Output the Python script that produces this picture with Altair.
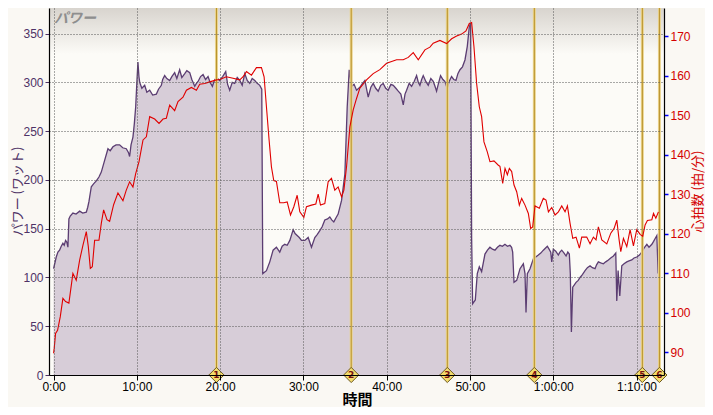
import altair as alt
import pandas as pd

# ---- data (time in minutes) ----
power_t = [0.0, 0.08, 0.32, 0.52, 0.72, 0.92, 1.12, 1.28, 1.44, 1.6, 1.72, 1.84, 2.0, 2.32, 2.7, 3.13, 3.5, 3.93,
           4.1, 4.25, 4.53, 4.8, 5.13, 5.45, 5.73, 6.13, 6.53, 6.8, 7.13, 7.5, 7.93, 8.3, 8.73, 9.0, 9.13, 9.3, 9.53,
           9.7, 9.86, 10.0, 10.13, 10.25, 10.34, 10.6, 10.94, 11.2, 11.54, 11.9, 12.34, 12.6, 12.94, 13.1, 13.34,
           13.6, 13.94, 14.2, 14.54, 14.8, 15.14, 15.4, 15.75, 16.0, 16.35, 16.6, 16.95, 17.15, 17.35, 17.65, 17.95,
           18.25, 18.55, 18.8, 19.07, 19.3, 19.55, 19.95, 20.3, 20.67, 20.9, 21.15, 21.45, 21.75, 22.05, 22.36,
           22.65, 22.96, 23.25, 23.56, 23.85, 24.16, 24.45, 24.76, 25.0, 25.12, 25.56, 25.96, 26.36, 26.76, 27.16,
           27.45, 27.76, 28.05, 28.37, 28.77, 29.0, 29.25, 29.5, 29.77, 30.17, 30.57, 30.97, 31.37, 31.65, 31.97,
           32.25, 32.57, 32.9, 33.17, 33.4, 33.65, 33.9, 34.17, 34.58, 34.98, 35.26, 35.5, 35.78, 36.08, 36.38,
           36.78, 37.1, 37.38, 37.78, 38.1, 38.38, 38.68, 38.98, 39.28, 39.58, 39.88, 40.18, 40.5, 40.79, 41.1,
           41.39, 41.7, 41.99, 42.2, 42.39, 42.7, 42.99, 43.3, 43.59, 43.8, 43.99, 44.2, 44.39, 44.7, 44.99, 45.3,
           45.59, 45.8, 45.99, 46.25, 46.47, 46.75, 46.99, 47.27, 47.5, 47.79, 48.05, 48.32, 48.55, 48.8, 49.1,
           49.4, 49.68, 49.92, 50.08, 50.2, 50.32, 50.64, 50.88, 51.12, 51.4, 51.8, 52.1, 52.4, 52.7, 53.0, 53.3,
           53.6, 53.9, 54.2, 54.5, 54.8, 55.0, 55.13, 55.29, 55.61, 56.01, 56.41, 56.61, 56.73, 56.89, 57.21,
           57.61, 57.9, 58.21, 58.5, 58.81, 59.05, 59.29, 59.5, 59.7, 59.82, 60.01, 60.3, 60.61, 60.8, 61.02, 61.3,
           61.54, 61.75, 61.93, 62.05, 62.18, 62.34, 62.74, 63.0, 63.22, 63.5, 63.82, 64.1, 64.42, 64.7, 65.02,
           65.2, 65.42, 65.7, 66.02, 66.3, 66.62, 66.9, 67.23, 67.51, 67.63, 67.79, 67.99, 68.23, 68.5, 68.83,
           69.1, 69.43, 69.7, 70.03, 70.35, 70.63, 70.9, 71.24, 71.5, 71.84, 72.05, 72.24, 72.44, 72.6]
power_w = [109, 112, 121, 126, 128, 132, 135, 133, 138, 136, 131, 160, 163, 166, 165, 168, 166, 167,
           172, 178, 193, 196, 199, 203, 208, 220, 232, 230, 234, 236, 236, 233, 232, 228, 224, 236, 244,
           258, 275, 300, 321, 306, 300, 294, 297, 290, 292, 287, 288, 293, 297, 303, 307,
           304, 302, 306, 310, 304, 313, 305, 309, 312, 310, 303, 296, 299, 301, 306, 308,
           303, 306, 300, 296, 302, 305, 302, 306, 311, 298, 292, 300, 299, 305, 302,
           297, 309, 302, 299, 304, 302, 299, 297, 293, 104, 107, 116, 128, 131, 126,
           132, 134, 133, 138, 149, 145, 143, 141, 138, 138, 141, 131, 141, 144, 148,
           152, 159, 160, 162, 159, 157, 161, 165, 179, 206, 275, 313, 296, 298, 292,
           295, 299, 302, 285, 295, 299, 294, 291, 297, 299, 294, 292, 298, 297, 294,
           291, 288, 277, 288, 292, 299, 296, 301, 307, 300, 297, 303, 307, 301, 297, 304,
           301, 296, 291, 300, 307, 303, 301, 294, 301, 306, 303, 302, 309, 313, 316,
           323, 337, 357, 361, 141, 73, 77, 104, 111, 106, 124, 128, 131, 129, 128, 131,
           133, 132, 134, 132, 133, 131, 126, 95, 97, 109, 114, 104, 64, 104, 109,
           119, 121, 123, 125, 128, 130, 132, 129, 126, 116, 129, 127, 123, 126, 128, 125,
           122, 126, 124, 104, 44, 90, 95, 97, 100, 103, 107, 110, 112, 110, 109,
           113, 116, 115, 114, 116, 118, 120, 122, 125, 76, 107, 81, 112, 114, 116,
           117, 118, 120, 121, 123, 126, 130, 134, 131, 134, 137, 140, 143, 104]

hr_t = [0.0, 0.08, 0.24, 0.48, 0.8, 1.12, 1.44, 1.84, 2.32, 2.72, 3.13, 3.53, 3.93, 4.17, 4.41, 4.65, 4.93,
        5.45, 5.73, 6.01, 6.41, 6.73, 7.21, 7.73, 8.33, 8.73, 9.13, 9.53, 9.86, 10.26, 10.74, 11.14, 11.54,
        12.14, 12.66, 13.14, 13.54, 13.94, 14.54, 14.94, 15.54, 15.95, 16.55, 17.15, 17.55, 18.15, 18.75,
        19.55, 19.95, 20.75, 21.55, 22.36, 22.76, 23.16, 23.76, 24.36, 24.96, 25.28, 25.56, 25.88, 26.16,
        26.44, 26.76, 27.16, 27.64, 28.05, 28.45, 28.85, 29.25, 29.57, 30.05, 30.37, 30.97, 31.49, 31.77,
        32.05, 32.57, 32.97, 33.37, 33.77, 34.17, 34.58, 34.86, 35.18, 35.58, 35.98, 36.38, 36.78, 37.58,
        38.38, 39.18, 39.99, 41.19, 41.99, 42.59, 43.19, 43.79, 44.59, 45.19, 45.59, 46.39, 47.2, 47.8,
        48.4, 49.0, 49.52, 49.92, 50.2, 50.48, 50.8, 51.12, 51.4, 51.68, 52.08, 52.4, 52.88, 53.41, 53.6,
        53.93, 54.21, 54.49, 54.73, 55.01, 55.29, 55.61, 55.93, 56.21, 56.61, 57.01, 57.29, 57.53, 57.81,
        58.33, 58.81, 59.13, 59.42, 59.82, 60.22, 60.62, 61.02, 61.42, 61.7, 62.02, 62.34, 62.74, 63.14,
        63.42, 64.02, 64.42, 64.82, 65.14, 65.42, 65.83, 66.43, 66.91, 67.31, 67.63, 67.91, 68.11, 68.43,
        68.83, 69.23, 69.63, 70.03, 70.43, 70.75, 71.03, 71.31, 71.84, 72.04, 72.32, 72.63]
hr_bpm = [89.7, 91, 94.7, 95.5, 98.9, 103.6, 102.8, 102.4, 109.9, 108.2, 113.3, 117.1, 120.5, 116.7, 111.2,
          111.6, 118.3, 118.3, 122.6, 126, 123.5, 123.1, 127.3, 130.3, 128.3, 131, 133.1, 131.8, 135.2, 138.2,
          143.7, 144.5, 149.6, 149, 147.9, 149, 149.2, 152.5, 151.1, 153.4, 154.5, 156.3, 157, 156.3, 157.8,
          158, 158.4, 158.9, 159, 159.7, 159.3, 158.9, 159.7, 161, 160.1, 162, 162, 159.7, 152.1, 143.7,
          136.9, 133.4, 133.2, 127.8, 127.8, 128, 124.7, 126.8, 129.7, 125.5, 124.1, 126.8, 127.2, 127.5,
          130, 127.2, 127.6, 133.1, 134, 131, 131.8, 129.3, 131, 136.9, 147, 151.3, 154.2, 156.8, 158.9,
          160.5, 161.5, 163.1, 164, 164, 164.6, 165.8, 164, 166.5, 167.2, 168.2, 168.9, 168.1, 169.3, 170,
          170.5, 171.3, 173.2, 173.4, 167.3, 158, 152.1, 149.6, 143.2, 140.7, 138.2, 138.4, 137.3, 137,
          132.7, 136.5, 134.9, 136.5, 135.7, 132.3, 130.6, 127.2, 128.9, 127.2, 125.1, 121.3, 121.7, 127,
          126.4, 128.9, 128.5, 125.5, 126.6, 124.7, 125.5, 127, 125.5, 127, 122.6, 118.8, 119.1, 116.3,
          119.1, 119.1, 117.4, 119.1, 118.4, 121.7, 118.4, 117.4, 120.1, 121.3, 123.4, 118.4, 115.4, 118.8,
          116.7, 121, 116.9, 121, 119.8, 119.3, 122.2, 123.3, 123.5, 125.1, 123.9, 125.5]

lap_t = [19.56, 35.74, 47.28, 57.73, 70.70, 72.75]
lap_n = ["1", "2", "3", "4", "5", "6"]

x_ticks = [0, 10, 20, 30, 40, 50, 60, 70]
power_ticks = [0, 50, 100, 150, 200, 250, 300, 350]
hr_ticks = [90, 100, 110, 120, 130, 140, 150, 160, 170]

panel_title = "パワー"
x_title = "時間"
power_title = "パワー (ワット)"
hr_title = "心拍数 (拍/分)"

power_df = pd.DataFrame({"t": power_t, "w": power_w})
hr_df = pd.DataFrame({"t": hr_t, "bpm": hr_bpm})
lap_df = pd.DataFrame({"t": lap_t, "n": lap_n})

PURPLE = "#4E3266"
RED = "#D40000"
NUMFONT = "Liberation Sans Narrow, Liberation Sans"
JPFONT = "Noto Sans CJK JP"

x_scale = alt.Scale(domain=[-0.55, 73.3], nice=False, zero=False)
x_axis = alt.Axis(
    values=x_ticks,
    labelExpr="datum.value < 60 ? datum.value + ':00' : '1:' + (datum.value - 60 < 10 ? '0' : '') + (datum.value - 60) + ':00'",
    title=x_title, titleFont=JPFONT, titleFontSize=15, titleFontWeight="bold", titleColor="black",
    titleX=308, titleY=24, titleBaseline="middle", titleAlign="center",
    labelFont=NUMFONT, labelFontSize=12, labelColor="black", labelFlush=False, labelPadding=1,
    grid=True, gridDash=[1, 2], gridColor="#555555", gridWidth=1,
    domainColor="black", domainWidth=1.2, tickColor="black", tickSize=5, zindex=1,
)
X = alt.X("t:Q", scale=x_scale, axis=x_axis)

p_scale = alt.Scale(domain=[0, 376.3], nice=False, zero=True)
p_axis = alt.Axis(
    values=power_ticks, title=power_title, titleFont=JPFONT, titleFontSize=13, titleFontWeight="normal",
    titleColor=PURPLE, titleX=-32, titleY=183, titleAngle=270, titleBaseline="middle", titleAlign="center",
    labelFont=NUMFONT, labelFontSize=12, labelColor=PURPLE, labelPadding=2,
    grid=True, gridDash=[1, 2], gridColor="#555555", gridWidth=1,
    domainColor="black", domainWidth=1.2, tickColor=PURPLE, tickSize=4, zindex=1,
)

hr_scale = alt.Scale(domain=[84.2, 177.1], nice=False, zero=False)
hr_axis = alt.Axis(
    orient="right", values=hr_ticks, title=hr_title, titleFont=JPFONT, titleFontSize=13,
    titleFontWeight="normal", titleColor=RED, titleX=33, titleY=183, titleAngle=270,
    titleBaseline="middle", titleAlign="center",
    labelFont=NUMFONT, labelFontSize=12, labelColor=RED, labelPadding=2,
    grid=False, domainColor="black", domainWidth=1.2, tickColor="#0000FF", tickSize=4, tickWidth=1.5,
    zindex=1,
)

grad = alt.Chart(power_df).mark_rect(
    fill=alt.Gradient(gradient="linear", x1=0, y1=0, x2=0, y2=1,
                      stops=[alt.GradientStop(color="#D8D4CE", offset=0),
                             alt.GradientStop(color="#FCFBF7", offset=1)])
).encode(x=alt.value(0), x2=alt.value("width"), y=alt.value(0), y2=alt.value(46))

area = alt.Chart(power_df).mark_area(color="#D7CDD8", opacity=1).encode(
    x=X, y=alt.Y("w:Q", scale=p_scale, axis=p_axis))
pline = alt.Chart(power_df).mark_line(color="#5B3D72", strokeWidth=1.3).encode(
    x=X, y=alt.Y("w:Q", scale=p_scale, axis=p_axis))

lap_outer = alt.Chart(lap_df).mark_rule(color="#EBD48C", strokeWidth=3).encode(
    x=X, y=alt.value(0), y2=alt.value("height"))
lap_inner = alt.Chart(lap_df).mark_rule(color="#B8922C", strokeWidth=1).encode(
    x=X, y=alt.value(0), y2=alt.value("height"))
lap_diamond = alt.Chart(lap_df).mark_point(
    shape="diamond", filled=True, size=230, fill="#F4DC6C", stroke="#6E5A20", strokeWidth=1, opacity=1
).encode(x=X, y=alt.value("height"))
lap_label = alt.Chart(lap_df).mark_text(
    fontSize=9, fontWeight="bold", color="#7A1010", font="DejaVu Sans", baseline="middle", align="center"
).encode(x=X, y=alt.value("height"), text="n:N")

title_txt = alt.Chart(pd.DataFrame({"s": [panel_title]})).mark_text(
    font=JPFONT, fontSize=14, fontStyle="italic", fontWeight="bold", color="#8E8E8E",
    align="left", baseline="middle"
).encode(x=alt.value(5), y=alt.value(11), text="s:N")

power_group = alt.layer(grad, area, pline, lap_outer, lap_inner, lap_diamond, lap_label, title_txt)

hr_line = alt.Chart(hr_df).mark_line(color="#E00000", strokeWidth=1.1).encode(
    x=X, y=alt.Y("bpm:Q", scale=hr_scale, axis=hr_axis))

chart = alt.layer(power_group, hr_line).resolve_scale(y="independent").properties(
    width=615, height=367,
    autosize=alt.AutoSizeParams(type="none"),
    padding={"left": 41, "top": 0, "right": 41, "bottom": 32},
    background="#FAF8F3",
).configure_view(fill="#FCFBF7", stroke=None)

chart.save("out.html", embed_options={"renderer": "svg", "actions": False})
